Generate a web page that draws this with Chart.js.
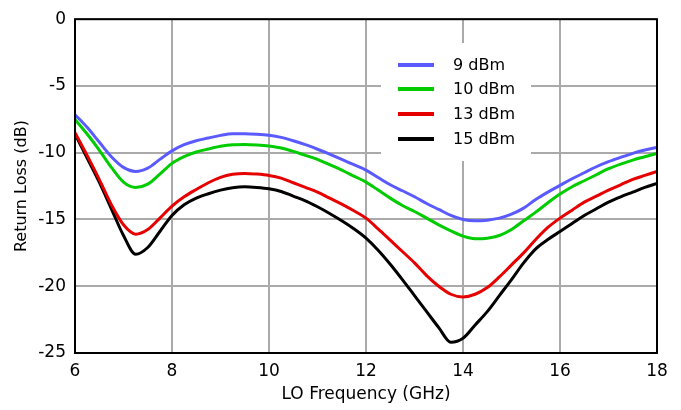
<!DOCTYPE html>
<html>
<head>
<meta charset="utf-8">
<script src="https://cdn.jsdelivr.net/npm/chart.js@4/dist/chart.umd.min.js"></script>
<style>
  html, body { margin: 0; padding: 0; background: #fff; }
  #wrap { width: 681px; height: 410px; }
</style>
</head>
<body>
<div id="wrap"><canvas id="myChart" width="681" height="410"></canvas></div>
<script>
/**
 *  Data
 */
var freq = [6.0, 6.25, 6.5, 6.75, 7.0, 7.25, 7.5, 7.75, 8.0, 8.25, 8.5, 8.75,
            9.0, 9.25, 9.5, 9.75, 10.0, 10.25, 10.5, 10.75, 11.0, 11.25, 11.5, 11.75,
            12.0, 12.25, 12.5, 12.75, 13.0, 13.25, 13.5, 13.75, 14.0, 14.25, 14.5, 14.75,
            15.0, 15.25, 15.5, 15.75, 16.0, 16.25, 16.5, 16.75, 17.0, 17.25, 17.5, 17.75, 18.0];

var rl_9dBm = [-7.15, -8.1, -9.2, -10.3, -11.1, -11.4, -11.15, -10.5, -9.86, -9.4, -9.1, -8.9,
               -8.7, -8.58, -8.58, -8.62, -8.7, -8.85, -9.1, -9.4, -9.74, -10.1, -10.5, -10.9,
               -11.3, -11.85, -12.4, -12.85, -13.3, -13.8, -14.25, -14.7, -15.0, -15.1, -15.05, -14.9,
               -14.6, -14.15, -13.5, -12.95, -12.45, -11.95, -11.5, -11.05, -10.67, -10.35, -10.05, -9.8, -9.6];

var rl_10dBm = [-7.5, -8.6, -9.8, -11.1, -12.2, -12.6, -12.35, -11.6, -10.8, -10.3, -9.95, -9.72,
                -9.52, -9.4, -9.38, -9.42, -9.5, -9.65, -9.9, -10.2, -10.5, -10.9, -11.3, -11.75,
                -12.2, -12.8, -13.4, -13.95, -14.4, -14.9, -15.4, -15.85, -16.25, -16.44, -16.4, -16.2,
                -15.75, -15.1, -14.45, -13.75, -13.1, -12.55, -12.1, -11.65, -11.2, -10.85, -10.55, -10.3, -10.05];

var rl_13dBm = [-8.5, -10.2, -12.0, -13.9, -15.4, -16.1, -15.75, -14.9, -14.0, -13.3, -12.75, -12.25,
                -11.85, -11.62, -11.55, -11.6, -11.7, -11.9, -12.25, -12.6, -12.95, -13.4, -13.85, -14.35,
                -14.9, -15.7, -16.55, -17.4, -18.25, -19.2, -20.0, -20.6, -20.8, -20.6, -20.1, -19.3,
                -18.4, -17.5, -16.5, -15.6, -14.9, -14.3, -13.7, -13.25, -12.8, -12.4, -12.0, -11.7, -11.4];

var rl_15dBm = [-8.6, -10.4, -12.2, -14.2, -16.2, -17.6, -17.1, -15.9, -14.7, -13.9, -13.4, -13.07,
                -12.8, -12.62, -12.55, -12.6, -12.7, -12.9, -13.25, -13.6, -14.05, -14.55, -15.1, -15.7,
                -16.4, -17.3, -18.35, -19.5, -20.7, -21.9, -23.1, -24.2, -23.9, -22.9, -21.9, -20.7,
                -19.5, -18.25, -17.2, -16.5, -15.9, -15.3, -14.7, -14.2, -13.7, -13.3, -12.95, -12.6, -12.3];

var labels = ["9 dBm", "10 dBm", "13 dBm", "15 dBm"];
var colors = ["#5a5aff", "#00cc00", "#e60000", "#000000"];
var series = [rl_9dBm, rl_10dBm, rl_13dBm, rl_15dBm];

var fontFamily = "'DejaVu Sans', Verdana, sans-serif";

var toPoints = function (ys) {
    return ys.map(function (y, i) {
        return { x: freq[i], y: y };
    });
};

/**
 *  Frame + legend drawn on top of the plot
 */
var framePlugin = {
    id: "frame",
    afterDatasetsDraw: function (chart) {
        var ctx = chart.ctx;
        var a = chart.chartArea;
        ctx.save();

        // legend box (white, covers gridlines)
        ctx.fillStyle = "#ffffff";
        ctx.fillRect(381, 43, 150, 118);
        var rowY = [65, 89, 114, 139];
        ctx.font = "16px " + fontFamily;
        ctx.textBaseline = "middle";
        ctx.textAlign = "left";
        chart.data.datasets.forEach(function (ds, i) {
            ctx.strokeStyle = ds.borderColor;
            ctx.lineWidth = 4;
            ctx.beginPath();
            ctx.moveTo(398, rowY[i]);
            ctx.lineTo(434, rowY[i]);
            ctx.stroke();
            ctx.fillStyle = "#000000";
            ctx.fillText(ds.label, 453, rowY[i] + 1);
        });

        // black frame
        ctx.strokeStyle = "#000000";
        ctx.lineWidth = 2;
        ctx.strokeRect(a.left, a.top, a.right - a.left, a.bottom - a.top);
        ctx.restore();
    }
};

new Chart(document.getElementById("myChart"), {
    type: "line",
    data: {
        datasets: series.map(function (s, i) {
            return {
                label: labels[i],
                data: toPoints(s),
                borderColor: colors[i],
                backgroundColor: colors[i],
                borderWidth: 3,
                pointRadius: 0,
                cubicInterpolationMode: "monotone",
                fill: false
            };
        })
    },
    options: {
        responsive: false,
        animation: false,
        events: [],
        layout: { padding: { left: 0, right: 24, top: 15, bottom: 0 } },
        plugins: {
            legend: { display: false },
            tooltip: { enabled: false }
        },
        scales: {
            x: {
                type: "linear",
                min: 6,
                max: 18,
                afterFit: function (scale) { scale.height = 57; },
                ticks: {
                    stepSize: 2,
                    padding: 8,
                    color: "#000000",
                    maxRotation: 0,
                    font: { family: fontFamily, size: 17 }
                },
                grid: { color: "#aaaaaa", lineWidth: 2, drawTicks: false },
                border: { display: false },
                title: {
                    display: true,
                    text: "LO Frequency (GHz)",
                    color: "#000000",
                    padding: { top: 0, bottom: 5 },
                    font: { family: fontFamily, size: 17 }
                }
            },
            y: {
                type: "linear",
                min: -25,
                max: 0,
                afterFit: function (scale) { scale.width = 75; },
                ticks: {
                    stepSize: 5,
                    padding: 9,
                    color: "#000000",
                    font: { family: fontFamily, size: 17 }
                },
                grid: { color: "#aaaaaa", lineWidth: 2, drawTicks: false },
                border: { display: false },
                title: {
                    display: true,
                    text: "Return Loss (dB)",
                    color: "#000000",
                    padding: { top: 12, bottom: 0 },
                    font: { family: fontFamily, size: 16 }
                }
            }
        }
    },
    plugins: [framePlugin]
});
</script>
</body>
</html>
